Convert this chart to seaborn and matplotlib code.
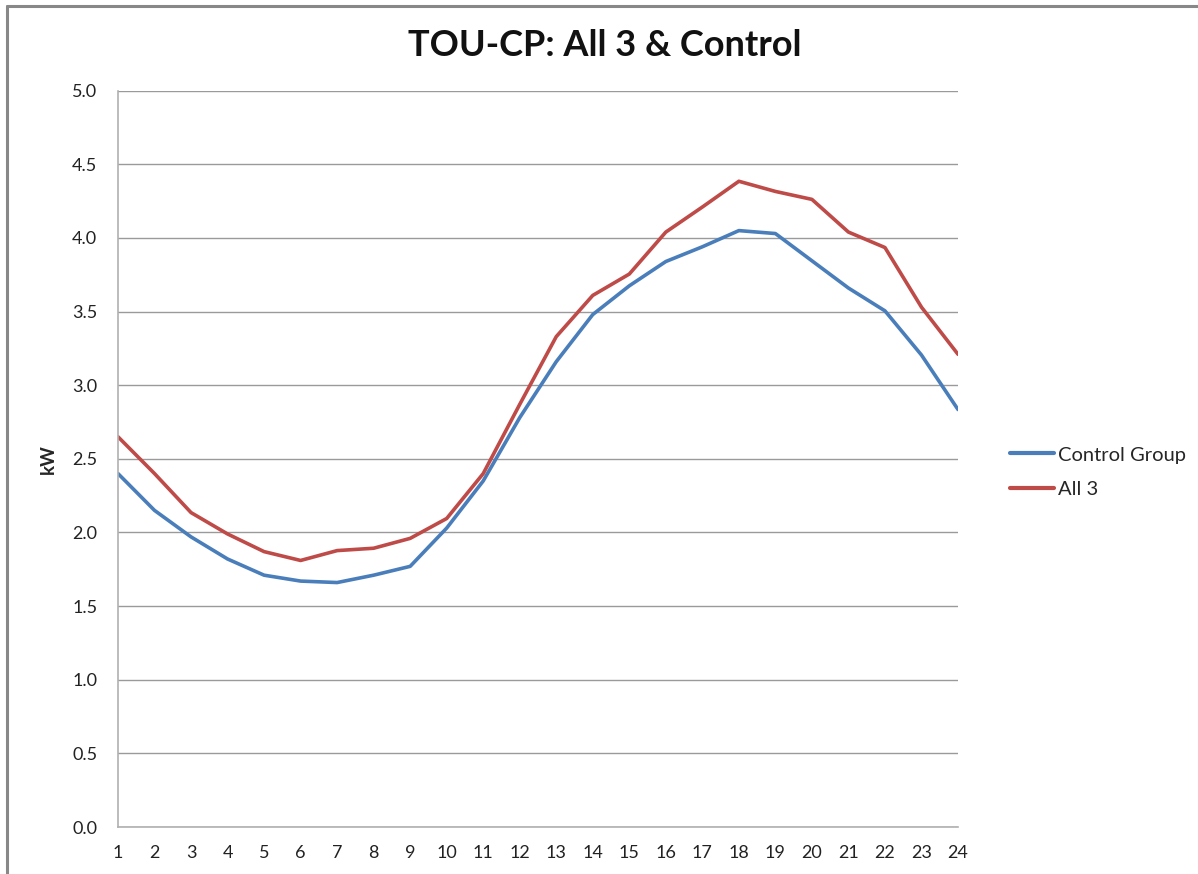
import matplotlib
matplotlib.use("Agg")
import matplotlib.pyplot as plt
from matplotlib.lines import Line2D
import numpy as np
import pandas as pd
import seaborn as sns

# Hourly average load (kW)
hours = list(range(1, 25))
control_group = [2.40, 2.15, 1.97, 1.82, 1.71, 1.67, 1.66, 1.71, 1.77, 2.03,
                 2.35, 2.78, 3.16, 3.48, 3.675, 3.84, 3.94, 4.05, 4.03, 3.845,
                 3.66, 3.505, 3.205, 2.835]
all_3 = [2.65, 2.40, 2.135, 1.99, 1.87, 1.81, 1.877, 1.893, 1.96, 2.095,
         2.40, 2.87, 3.33, 3.61, 3.755, 4.04, 4.21, 4.385, 4.316, 4.262,
         4.04, 3.935, 3.53, 3.21]
series_names = ["Control Group", "All 3"]
y_ticks = [0.0, 0.5, 1.0, 1.5, 2.0, 2.5, 3.0, 3.5, 4.0, 4.5, 5.0]

df = pd.DataFrame({
    "hour": hours * 2,
    "kW": control_group + all_3,
    "series": [series_names[0]] * len(hours) + [series_names[1]] * len(hours),
})

sns.set_theme(style="white")
plt.rcParams["font.family"] = ["Lato", "DejaVu Sans"]

W, H = 1198, 874
fig = plt.figure(figsize=(W / 100, H / 100), dpi=100)
ax = fig.add_axes([118 / W, 1 - 827 / H, (958 - 118) / W, (827 - 90.7) / H])

palette = {"Control Group": "#4A7EBB", "All 3": "#BE4B48"}
sns.lineplot(data=df, x="hour", y="kW", hue="series", palette=palette,
             linewidth=2.6, ax=ax, legend=True)

ax.set_xlim(1, 24)
ax.set_ylim(0, 5)
ax.set_xticks(hours)
ax.set_xticklabels([str(h) for h in hours], fontsize=13, color="#222222")
ax.set_yticks(y_ticks)
ax.set_yticklabels([f"{v:.1f}" for v in y_ticks], fontsize=13, color="#222222")
ax.tick_params(axis="both", length=0)
ax.tick_params(axis="x", pad=13)
ax.tick_params(axis="y", pad=15)

ax.yaxis.grid(True, color="#9a9a9a", linewidth=1.0)
ax.xaxis.grid(False)
ax.set_axisbelow(True)
for side in ["top", "right"]:
    ax.spines[side].set_visible(False)
for side in ["left", "bottom"]:
    ax.spines[side].set_color("#b0b0b0")
    ax.spines[side].set_linewidth(1.2)

ax.set_xlabel("")
ax.set_ylabel("kW", fontsize=13.5, fontweight="bold", labelpad=11)

fig.text(605 / W, 1 - 45 / H, "TOU-CP: All 3 & Control", fontsize=26,
         fontweight="bold", color="#111111", ha="center", va="center")

leg = ax.legend(loc="center left", bbox_to_anchor=(1.04, 0.482), frameon=False,
                fontsize=14.5, handlelength=2.2, handletextpad=0.2,
                labelspacing=0.85)
for line in leg.get_lines():
    line.set_linewidth(3.0)

# Outer chart frame (top and left edges)
fig.add_artist(Line2D([7 / W, 1.0], [1 - 5.5 / H, 1 - 5.5 / H],
                      transform=fig.transFigure, color="#888888", linewidth=2.2))
fig.add_artist(Line2D([7 / W, 7 / W], [0.0, 1 - 5.5 / H],
                      transform=fig.transFigure, color="#888888", linewidth=2.2))

fig.savefig("out.png", dpi=100, facecolor="white")
